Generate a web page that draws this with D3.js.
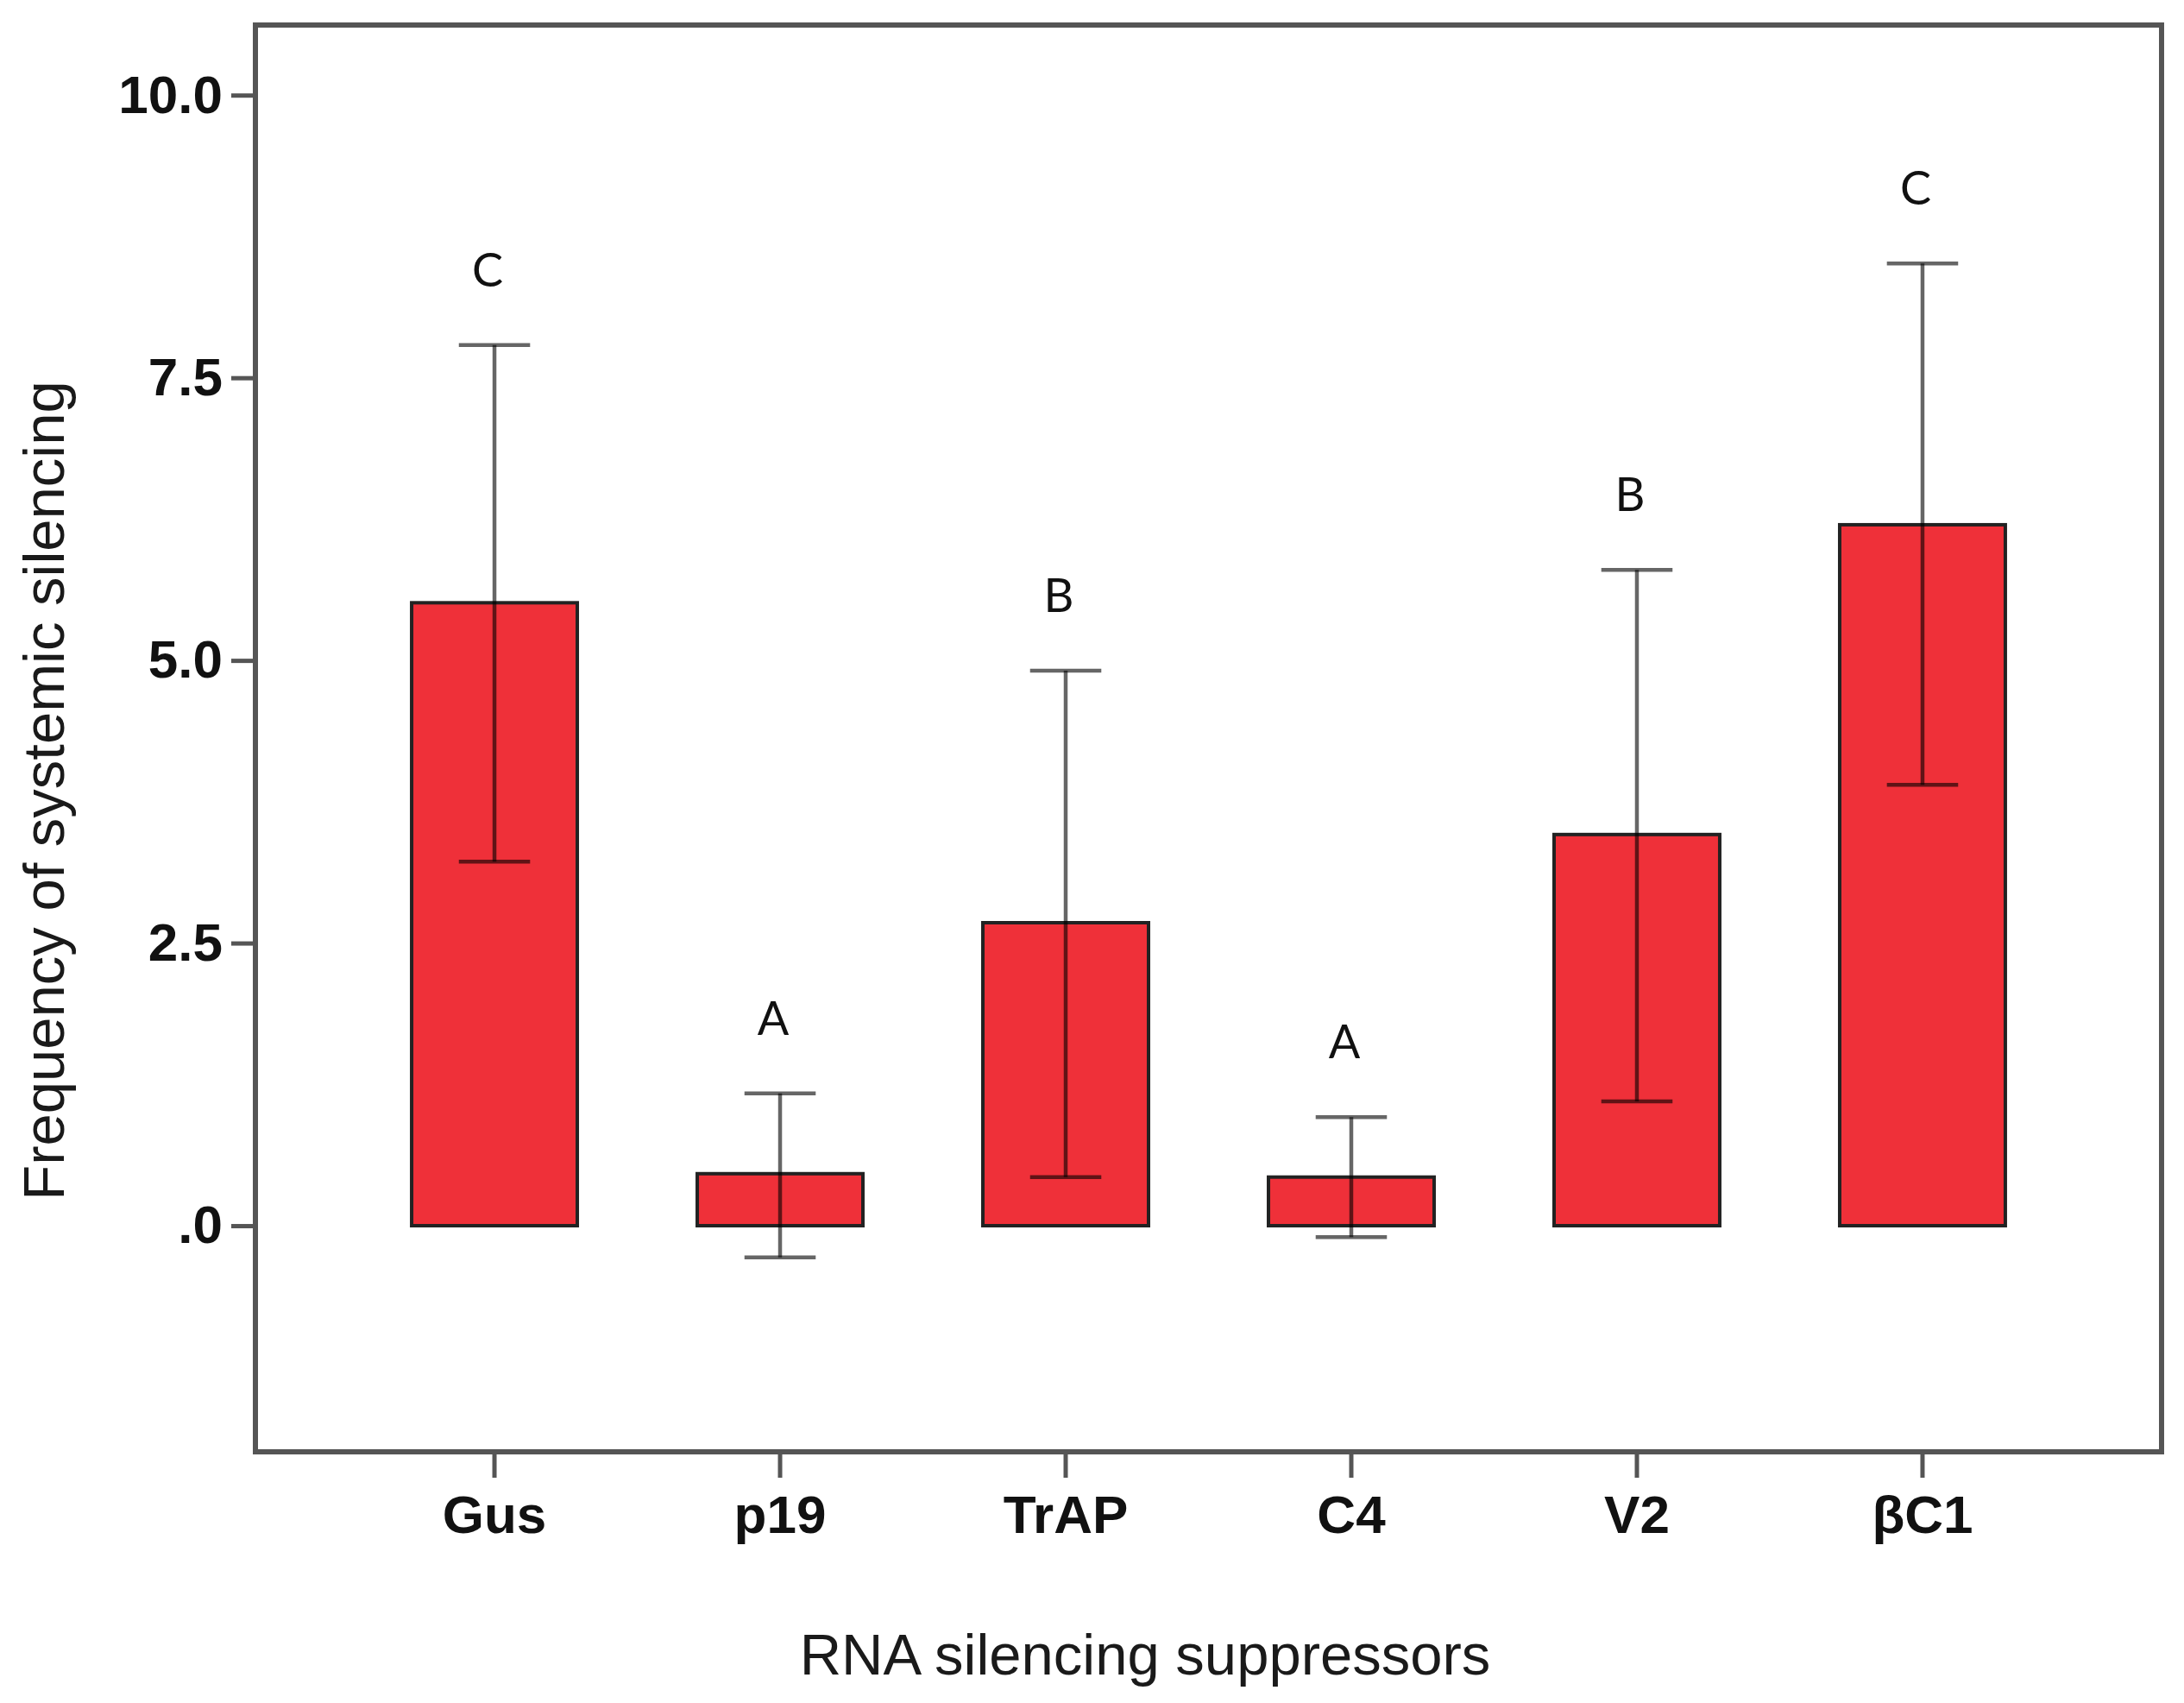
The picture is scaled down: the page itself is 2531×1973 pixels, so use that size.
<!DOCTYPE html>
<html lang="en">
<head>
    <meta charset="UTF-8" />
    <title>Frequency of systemic silencing</title>
    <script src="https://d3js.org/d3.v7.min.js"></script>
    <style>
        body { margin: 0; background: #fff; }
        .bar { fill: #ef3039; stroke: #222; stroke-width: 4px; }
        .err { stroke: #000; stroke-opacity: 0.6; stroke-width: 4.5px; }
        .frame { fill: none; stroke: #555; stroke-width: 6px; }
        .tick line { stroke: #555; stroke-width: 5px; }
        .tick text { font-family: "Liberation Sans", Arial, sans-serif; font-weight: bold; font-size: 62px; fill: #111; }
        .title { font-family: "Liberation Sans", Arial, sans-serif; font-size: 67px; fill: #1a1a1a; }
        .letter { font-family: Lato, "Open Sans", sans-serif; font-size: 54px; fill: #111; }
    </style>
</head>
<body>
    <script>
        // values
        const categories = ["Gus", "p19", "TrAP", "C4", "V2", "βC1"];
        const means = [5.51, 0.46, 2.68, 0.43, 3.46, 6.20];
        const errLow = [3.22, -0.28, 0.43, -0.10, 1.10, 3.90];
        const errHigh = [7.79, 1.17, 4.91, 0.96, 5.80, 8.51];
        const letters = ["C", "A", "B", "A", "B", "C"];
        const yTicks = [0, 2.5, 5, 7.5, 10];

        const width = 2531;
        const height = 1973;
        const plot = { left: 296, right: 2505, top: 29, bottom: 1682 };

        const data = categories.map((c, i) => ({
            name: c, mean: means[i], lo: errLow[i], hi: errHigh[i], letter: letters[i]
        }));

        const x = d3.scaleBand()
            .domain(categories)
            .range([plot.left, plot.right])
            .paddingInner(0.42)
            .paddingOuter(0.547);

        const y = d3.scaleLinear()
            .domain([-2, 10.62])
            .range([plot.bottom, plot.top]);

        const svg = d3.select("body")
            .append("svg")
            .attr("width", width)
            .attr("height", height);

        const fmt = v => d3.format(".1f")(v).replace(/^0\./, ".");

        // axes
        svg.append("g")
            .attr("transform", `translate(${plot.left},0)`)
            .call(d3.axisLeft(y).tickValues(yTicks).tickFormat(fmt).tickSize(28).tickPadding(10))
            .call(g => g.select(".domain").remove());

        svg.append("g")
            .attr("transform", `translate(0,${plot.bottom})`)
            .call(d3.axisBottom(x).tickSize(30).tickPadding(20))
            .call(g => g.select(".domain").remove());

        // bars
        svg.selectAll(".bar")
            .data(data)
            .enter()
            .append("rect")
            .attr("class", "bar")
            .attr("x", d => x(d.name))
            .attr("y", d => y(Math.max(d.mean, 0)))
            .attr("width", x.bandwidth())
            .attr("height", d => Math.abs(y(d.mean) - y(0)));

        // error bars
        const capW = x.bandwidth() * 0.43;
        const eg = svg.selectAll(".errg")
            .data(data)
            .enter()
            .append("g")
            .attr("transform", d => `translate(${x(d.name) + x.bandwidth() / 2},0)`);

        eg.append("line").attr("class", "err")
            .attr("x1", 0).attr("x2", 0)
            .attr("y1", d => y(d.hi)).attr("y2", d => y(d.lo));
        eg.append("line").attr("class", "err")
            .attr("x1", -capW / 2).attr("x2", capW / 2)
            .attr("y1", d => y(d.hi)).attr("y2", d => y(d.hi));
        eg.append("line").attr("class", "err")
            .attr("x1", -capW / 2).attr("x2", capW / 2)
            .attr("y1", d => y(d.lo)).attr("y2", d => y(d.lo));

        // significance letters
        eg.append("text")
            .attr("class", "letter")
            .attr("text-anchor", "middle")
            .attr("x", -8)
            .attr("y", d => y(d.hi) - 68)
            .text(d => d.letter);

        // frame
        svg.append("rect")
            .attr("class", "frame")
            .attr("x", plot.left)
            .attr("y", plot.top)
            .attr("width", plot.right - plot.left)
            .attr("height", plot.bottom - plot.top);

        // axis titles
        svg.append("text")
            .attr("class", "title")
            .attr("text-anchor", "middle")
            .attr("x", 1327)
            .attr("y", 1940)
            .text("RNA silencing suppressors");

        svg.append("text")
            .attr("class", "title")
            .attr("text-anchor", "middle")
            .attr("transform", "translate(74,916) rotate(-90)")
            .text("Frequency of systemic silencing");
    </script>
</body>
</html>
